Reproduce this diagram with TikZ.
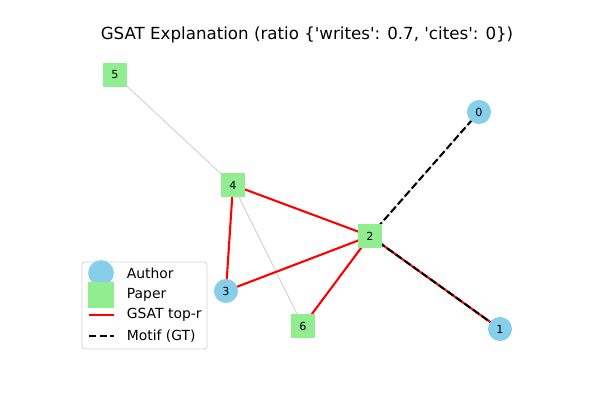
\documentclass[tikz,border=0pt]{standalone}
\usepackage{fontspec}
\setmainfont{DejaVu Sans}
\usetikzlibrary{backgrounds}
\definecolor{authorblue}{HTML}{87CEEB}
\definecolor{papergreen}{HTML}{90EE90}
\definecolor{edgegray}{HTML}{D3D3D3}
\newcommand{\sq}{\textquotesingle}
\tikzset{
  author/.style={circle, fill=authorblue, minimum size=17.3pt, inner sep=0pt, font=\fontsize{8}{8}\selectfont},
  paper/.style={rectangle, fill=papergreen, minimum size=17.3pt, inner sep=0pt, font=\fontsize{8}{8}\selectfont},
  baseedge/.style={edgegray, line width=0.72pt},
  topedge/.style={red, line width=1.5pt},
  motifedge/.style={black, line width=1.5pt, dash pattern=on 5.3pt off 2.3pt},
  legtext/.style={anchor=west, font=\fontsize{10}{12}\selectfont},
}
\begin{document}
\begin{tikzpicture}[x=0.72pt, y=-0.72pt]
				\useasboundingbox (0,0) rectangle (600,400);
				% 标题
				\node[font=\fontsize{12}{14}\selectfont] (title) at (307,35) {GSAT Explanation (ratio \{\sq writes\sq: 0.7, \sq cites\sq: 0\})};
				
				% 节点
				\node[author] (n0) at (479,112) {0};
				\node[author] (n1) at (500,329) {1};
				\node[paper]  (n2) at (370,236) {2};
				\node[author] (n3) at (226,291) {3};
				\node[paper]  (n4) at (233,185) {4};
				\node[paper]  (n5) at (115,75) {5};
				\node[paper]  (n6) at (303,326) {6};
				
				% 边
				\begin{scope}[on background layer]
				\draw[baseedge] (n5.center) -- (n4.center) (n4.center) -- (n6.center) (n2.center) -- (n0.center) (n2.center) -- (n1.center);
				\draw[topedge] (n4.center) -- (n2.center) (n4.center) -- (n3.center) (n3.center) -- (n2.center) (n6.center) -- (n2.center) (n2.center) -- (n1.center);
				\draw[motifedge] (n2.center) -- (n0.center) (n2.center) -- (n1.center);
				\end{scope}
				
				% 图例
				\draw[edgegray, rounded corners=2pt, fill=white, line width=0.6pt] (82,262) rectangle (207,349);
				\node[author, minimum size=18.5pt] (lgA) at (101,273) {};
				\node[paper, minimum size=18.5pt] (lgP) at (101,295) {};
				\coordinate (lgR1) at (89,315);
				\coordinate (lgR2) at (114,315);
				\coordinate (lgM1) at (89,336);
				\coordinate (lgM2) at (114,336);
				\draw[topedge] (lgR1) -- (lgR2);
				\draw[motifedge] (lgM1) -- (lgM2);
				\node[legtext] (tA) at (122,273) {Author};
				\node[legtext] (tP) at (122,295) {Paper};
				\node[legtext] (tR) at (122,315) {GSAT top-r};
				\node[legtext] (tM) at (122,336) {Motif (GT)};
			\end{tikzpicture}
\end{document}
